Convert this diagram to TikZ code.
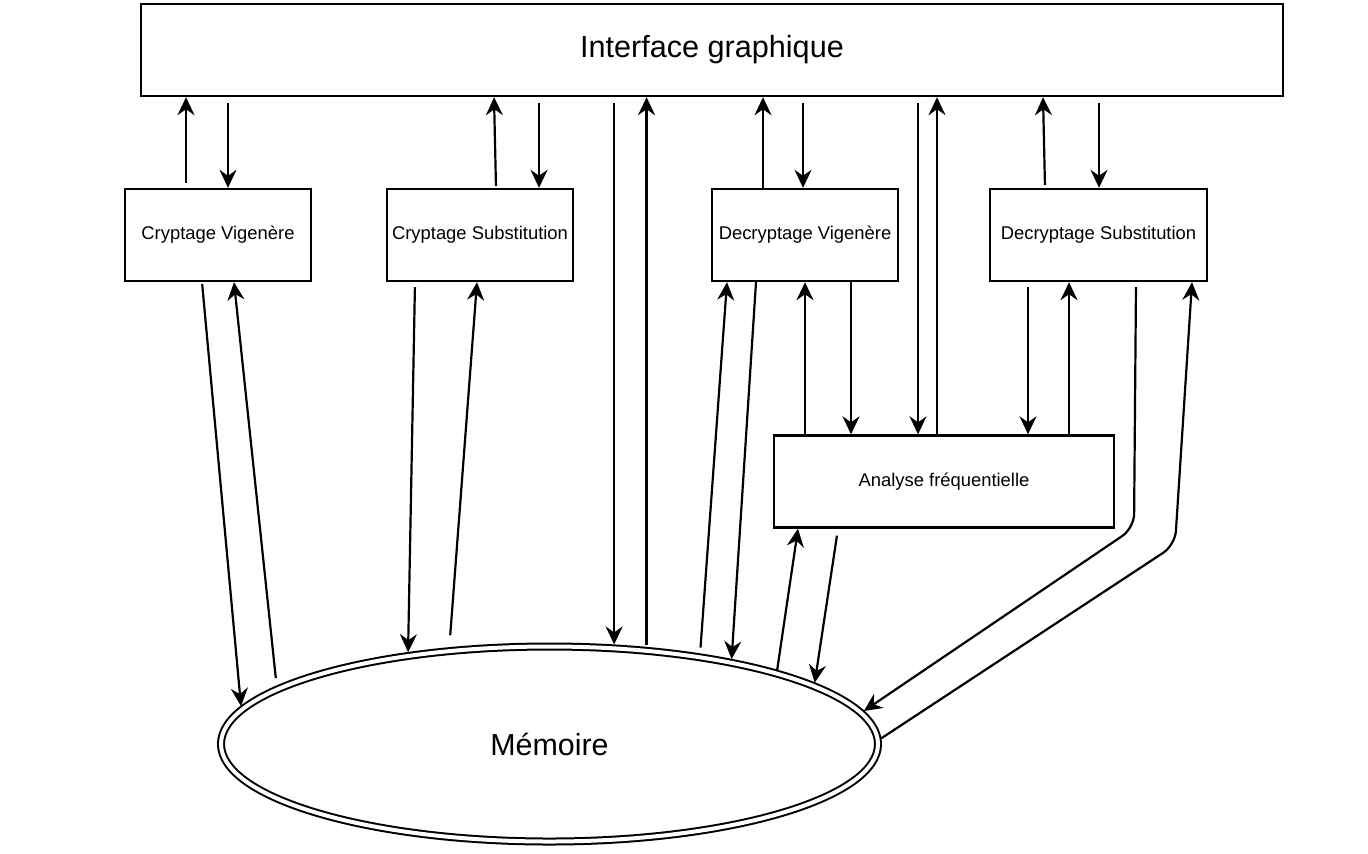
\documentclass[tikz,border=0pt]{standalone}
\usepackage{fontspec}
\setmainfont{Liberation Sans}
\usetikzlibrary{arrows.meta,shapes.geometric}

\tikzset{
  module/.style={draw, line width=1.2pt, rectangle, inner sep=0pt, minimum height=46pt,
                 font=\fontsize{9.2}{11}\selectfont},
  arr/.style={line width=1.1pt, -{Stealth[length=9pt, width=8.5pt, inset=3pt]}},
  tail/.style={shorten <=#1}
}

\begin{document}
\begin{tikzpicture}[x=0.5pt, y=-0.5pt]
\useasboundingbox (0,0) rectangle (1368,853);

% main blocks
\node[module, minimum width=571pt, font=\fontsize{15.3}{18}\selectfont] (gui) at (712,50) {Interface graphique};
\node[module, minimum width=93pt] (cv) at (218,235) {Cryptage Vigenère};
\node[module, minimum width=93pt] (cs) at (480,235) {Cryptage Substitution};
\node[module, minimum width=93pt] (dv) at (805,235) {Decryptage Vigenère};
\node[module, minimum width=108.5pt] (ds) at (1098.5,235) {Decryptage Substitution};
\node[module, minimum width=170pt] (af) at (944,481.5) {Analyse fréquentielle};

% shared memory
\node[ellipse, draw, double, double distance=2pt, line width=1pt,
      minimum width=328.5pt, minimum height=97.5pt, inner sep=0pt, outer sep=2pt,
      font=\fontsize{15.2}{18}\selectfont] (mem) at (549.5,744) {Mémoire};

% interface <-> modules
\draw[arr, tail=2.5pt] (186,0 |- cv.north) -- (186,0 |- gui.south);
\draw[arr, tail=3pt]   (228,0 |- gui.south) -- (228,0 |- cv.north);
\draw[arr, tail=1pt]   (496,0 |- cs.north) -- (494,0 |- gui.south);
\draw[arr, tail=3pt]   (539,0 |- gui.south) -- (539,0 |- cs.north);
\draw[arr]             (763,0 |- dv.north) -- (763,0 |- gui.south);
\draw[arr, tail=3pt]   (803,0 |- gui.south) -- (803,0 |- dv.north);
\draw[arr, tail=1.5pt] (1045,0 |- ds.north) -- (1043,0 |- gui.south);
\draw[arr, tail=3pt]   (1099,0 |- gui.south) -- (1099,0 |- ds.north);

% interface <-> memory
\draw[arr, tail=3pt] (gui.south -| mem.57.5) -- (mem.57.5);
\draw[arr, tail=1pt] (mem.45) -- (gui.south -| mem.45);

% interface <-> frequency analysis
\draw[arr, tail=3pt] (918,0 |- gui.south) -- (918,0 |- af.north);
\draw[arr]           (937,0 |- af.north) -- (937,0 |- gui.south);

% encryption modules <-> memory
\draw[arr, tail=1pt] (202,0 |- cv.south) -- (mem.173.6);
\draw[arr, tail=4pt] (mem.168.7) -- (234,0 |- cv.south);
\draw[arr, tail=2.5pt] (415,0 |- cs.south) -- (mem.147.6);
\draw[arr, tail=6pt] (mem.136.2) -- (477,0 |- cs.south);

% Vigenere decryption <-> memory and analysis
\draw[arr, tail=3pt] (mem.31.3) -- (727,0 |- dv.south);
\draw[arr] (756,0 |- dv.south) -- (mem.25.1);
\draw[arr] (805,0 |- af.north) -- (805,0 |- dv.south);
\draw[arr] (851,0 |- dv.south) -- (851,0 |- af.north);

% substitution decryption <-> analysis
\draw[arr, tail=2.5pt] (1028,0 |- ds.south) -- (1028,0 |- af.north);
\draw[arr] (1069,0 |- af.north) -- (1069,0 |- ds.south);

% frequency analysis <-> memory
\draw[arr] (mem.18.9) -- (798,0 |- af.south);
\draw[arr, tail=3.5pt] (838,0 |- af.south) -- (mem.13.0);

% substitution decryption <-> memory
\draw[arr, rounded corners=7pt, tail=2.5pt] (1136,0 |- ds.south) -- (1134,528) -- (mem.6.9);
\draw[arr, rounded corners=7pt] (mem.1) -- (1175,545) -- (1192,0 |- ds.south);
\end{tikzpicture}
\end{document}
